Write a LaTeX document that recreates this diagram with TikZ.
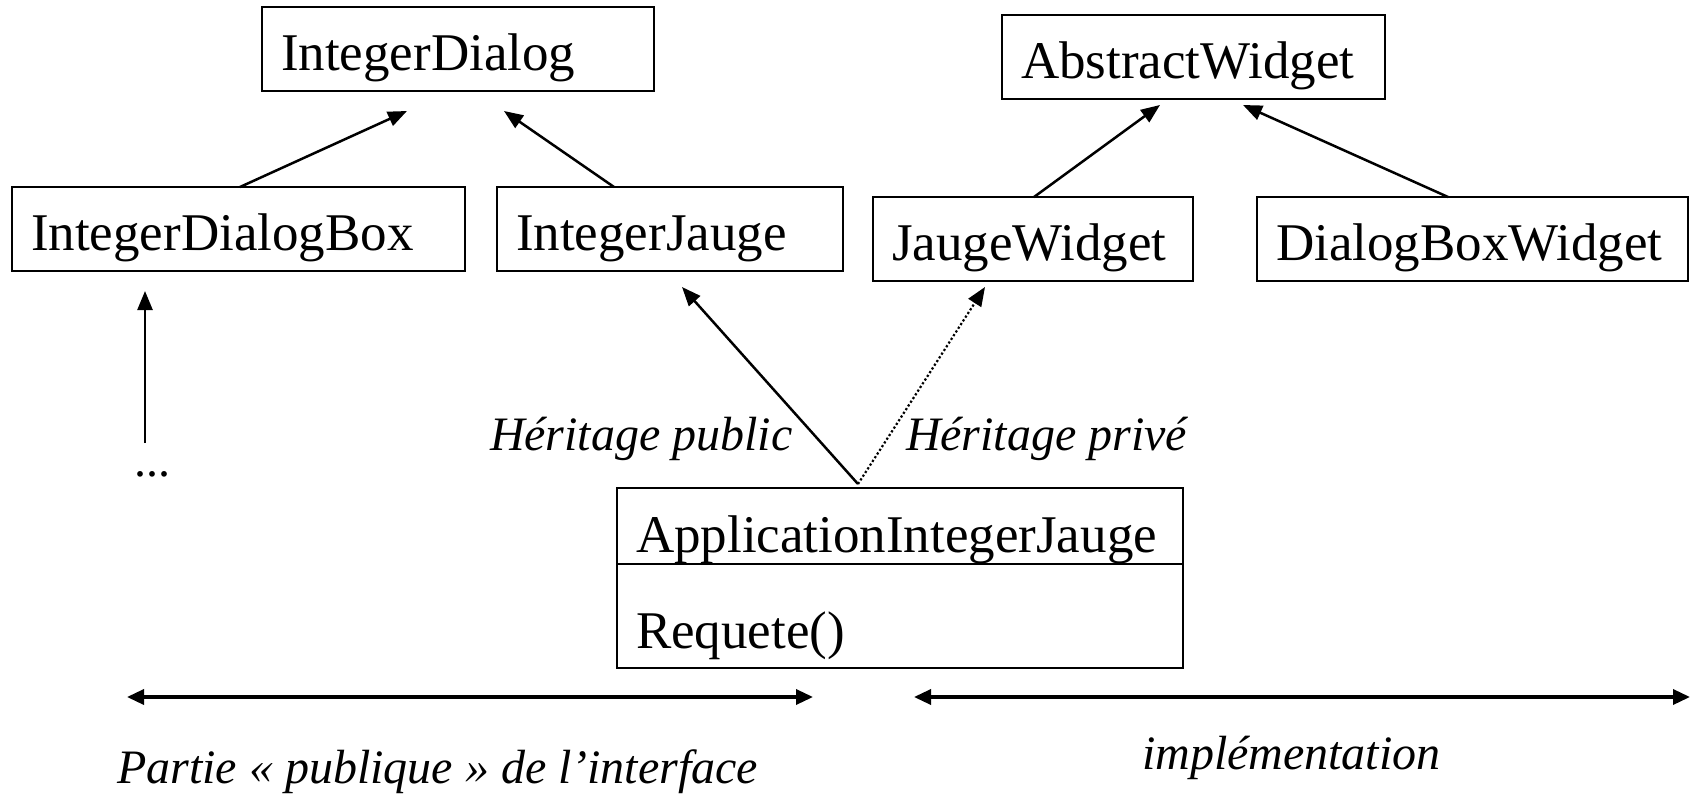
\documentclass[tikz,border=0pt]{standalone}
\usepackage{fontspec}
\setmainfont{Liberation Serif}
\usetikzlibrary{arrows.meta}

\begin{document}
\begin{tikzpicture}[x=1pt,y=-1pt,
  cls/.style={draw, line width=2.8pt, outer sep=0pt, inner xsep=19pt, inner ysep=0pt,
    text height=44pt, text depth=0pt, align=left, anchor=north west,
    minimum height=84pt, font=\fontsize{53}{60}\selectfont},
  txt/.style={inner sep=0pt, outer sep=0pt, anchor=base west, font=\fontsize{53}{60}\selectfont},
  lbl/.style={inner sep=0pt, outer sep=0pt, anchor=base west, font=\fontsize{48}{56}\selectfont\itshape},
  inh/.style={-{Triangle[length=19pt,width=15pt]}, line width=2.5pt},
  span/.style={{Triangle[length=17pt,width=15pt]}-{Triangle[length=17pt,width=15pt]}, line width=3.4pt}]
\useasboundingbox (0,0) rectangle (1691,794);

% class boxes
\node[cls, text width=354pt] (idlg)   at (262,7)   {IntegerDialog};
\node[cls, text width=415pt] (idbox)  at (12,187)  {IntegerDialogBox};
\node[cls, text width=308pt] (ijauge) at (497,187) {IntegerJauge};
\node[cls, text width=345pt] (aw)     at (1002,15) {AbstractWidget};
\node[cls, text width=282pt] (jw)     at (873,197) {JaugeWidget};
\node[cls, text width=393pt] (dbw)    at (1257,197){DialogBoxWidget};

% application class with one operation
\node[draw, line width=2.8pt, outer sep=0pt, anchor=north west,
      minimum width=566pt, minimum height=180pt] (app) at (617,488) {};
\draw[line width=1.4pt] ([yshift=-76pt]app.north west) -- ([yshift=-76pt]app.north east);
\node[txt] (appname) at (636,552) {ApplicationIntegerJauge};
\node[txt] (appreq)  at (636,648) {Requete()};

% inheritance arrows between the upper classes
\coordinate (t1) at (407,111);
\coordinate (t2) at (504,111);
\coordinate (t3) at (1160,105);
\coordinate (t4) at (1243,105);
\draw[inh] ([xshift=228pt]idbox.north west) -- (t1);
\draw[inh] ([xshift=117pt]ijauge.north west) -- (t2);
\draw[inh] ([xshift=161pt]jw.north west) -- (t3);
\draw[inh] ([xshift=191pt]dbw.north west) -- (t4);

% further subclasses of IntegerDialogBox
\node[txt, font=\fontsize{48}{56}\selectfont] (dots) at (134,476) {...};
\coordinate (vs) at (145,443);
\coordinate (ve) at (145,291);
\draw[inh] (vs) -- (ve);

% public and private inheritance
\coordinate (apptop) at ([xshift=241pt,yshift=4pt]app.north west);
\coordinate (tpub) at (682,287);
\coordinate (tpriv) at (985,287);
\draw[inh] (apptop) -- (tpub);
\draw[inh, line width=2.2pt, dash pattern=on 2.2pt off 2.2pt] (apptop) -- (tpriv);
\node[lbl] (pub)  at (490,450) {Héritage public};
\node[lbl] (priv) at (906,450) {Héritage privé};

% interface / implementation spans
\coordinate (la) at (127,697);
\coordinate (lb) at (813,697);
\coordinate (ra) at (914,697);
\coordinate (rb) at (1690,697);
\draw[span] (la) -- (lb);
\draw[span] (ra) -- (rb);
\node[lbl] (part) at (117,783) {Partie «~publique~» de l’interface};
\node[lbl] (impl) at (1142,769) {implémentation};
\end{tikzpicture}
\end{document}
